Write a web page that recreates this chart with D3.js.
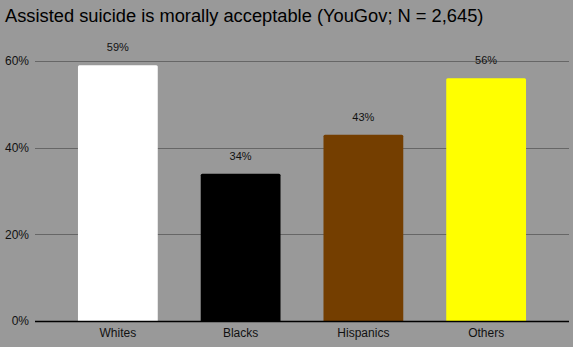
<!DOCTYPE html>
<html><head><meta charset="utf-8">
<script src="https://cdn.jsdelivr.net/npm/d3@7"></script>
<style>body{margin:0;background:#999999;} svg{display:block;}</style>
</head><body>
<script>
const categories = ["Whites", "Blacks", "Hispanics", "Others"];
const values = [59, 34, 43, 56];
const barColors = ["#ffffff", "#000000", "#743e00", "#ffff00"];
const yTicks = [0, 20, 40, 60];
const title = "Assisted suicide is morally acceptable (YouGov; N = 2,645)";

const W = 573, H = 347;
const m = {left: 35, right: 4, top: 61, bottom: 26};
const svg = d3.select("body").append("svg").attr("width", W).attr("height", H);
svg.append("rect").attr("width", W).attr("height", H).attr("fill", "#999999");

const x = d3.scaleBand().domain(categories).range([m.left, W - m.right]).paddingInner(0.35).paddingOuter(0.35);
const y = d3.scaleLinear().domain([0, 60]).range([H - m.bottom, m.top]);

svg.append("text").attr("x", 5).attr("y", 22).attr("font-family", "Liberation Sans, Arial, sans-serif")
  .attr("font-size", 18.3).attr("fill", "#000").text(title);

const font = "Liberation Sans, Arial, sans-serif";
// gridlines
svg.append("g").selectAll("line").data(yTicks.filter(d => d > 0)).join("line")
  .attr("x1", m.left).attr("x2", W - m.right)
  .attr("y1", d => Math.round(y(d)) + 0.5).attr("y2", d => Math.round(y(d)) + 0.5)
  .attr("stroke", "#666666").attr("stroke-width", 1);

svg.append("g").selectAll("text").data(yTicks).join("text")
  .attr("x", 29).attr("y", d => y(d)).attr("dy", "0.35em").attr("text-anchor", "end")
  .attr("font-family", font).attr("font-size", 12).attr("fill", "#111").text(d => d + "%");

svg.append("g").selectAll("path").data(values).join("path")
  .attr("fill", (d, i) => barColors[i])
  .attr("d", (d, i) => {
    const x0 = x(categories[i]), w = x.bandwidth(), y0 = y(d), y1 = y(0), r = 1.5;
    return `M${x0},${y1}V${y0 + r}Q${x0},${y0} ${x0 + r},${y0}H${x0 + w - r}Q${x0 + w},${y0} ${x0 + w},${y0 + r}V${y1}Z`;
  });

svg.append("g").selectAll("text").data(values).join("text")
  .attr("x", (d, i) => x(categories[i]) + x.bandwidth() / 2).attr("y", d => y(d) - 14)
  .attr("text-anchor", "middle").attr("font-family", font).attr("font-size", 11).attr("fill", "#111")
  .text(d => d + "%");

svg.append("line").attr("x1", m.left).attr("x2", W - m.right)
  .attr("y1", y(0) + 0.5).attr("y2", y(0) + 0.5).attr("stroke", "#000").attr("stroke-width", 1.3);

svg.append("g").selectAll("text").data(categories).join("text")
  .attr("x", d => x(d) + x.bandwidth() / 2).attr("y", H - m.bottom + 16)
  .attr("text-anchor", "middle").attr("font-family", font).attr("font-size", 12).attr("fill", "#111")
  .text(d => d);
</script>
</body></html>
